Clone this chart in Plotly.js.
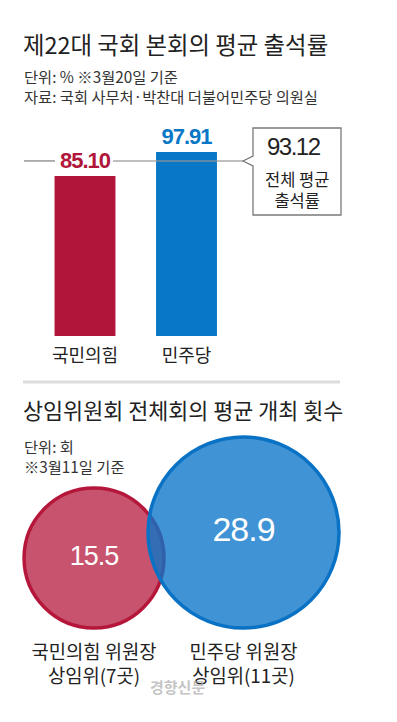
<!DOCTYPE html>
<html>
<head>
<meta charset="utf-8">
<script src="https://cdn.plot.ly/plotly-3.0.1.min.js"></script>
<style>
  html, body { margin: 0; padding: 0; background: #ffffff; }
  #chart { width: 397px; height: 722px; }
  #chart .bartext { letter-spacing: -1px; }
  #chart .textpoint text { letter-spacing: -1px; }
  #chart .annotation[data-index="0"] text { letter-spacing: -1.5px; }
</style>
</head>
<body>
<div id="chart"></div>
<script>
// ---------------- DATA ----------------
var TITLE_1 = '제22대 국회 본회의 평균 출석률';
var NOTES_1 = ['단위: % ※3월20일 기준', '자료: 국회 사무처·박찬대 더불어민주당 의원실'];
var BAR_PARTIES = ['국민의힘', '민주당'];
var BAR_VALUES = [85.10, 97.91];
var AVG_VALUE = 93.12;
var AVG_LABEL = ['전체 평균', '출석률'];

var TITLE_2 = '상임위원회 전체회의 평균 개최 횟수';
var NOTES_2 = ['단위: 회', '※3월11일 기준'];
var BUBBLE_LABELS = ['국민의힘 위원장<br>상임위(7곳)', '민주당 위원장<br>상임위(11곳)'];
var BUBBLE_VALUES = [15.5, 28.9];
var WATERMARK = '경향신문';

// ---------------- STYLE ----------------
var W = 397, H = 722;
var KR = '"Noto Sans CJK KR", "Noto Sans", sans-serif';
var NUM = '"Liberation Sans", Arial, sans-serif';
var RED = '#b1163a', BLUE = '#0877c6';
var TXT = '#222222';

function px(x) { return x / W; }
function py(y) { return 1 - y / H; }

// bar geometry (pixels)
var BAR_BASE = 336, BAR_TOP = 110, BAR_SCALE = 1.88;
var CAT0_X = 85, CAT_STEP = 101.5;

// bubble geometry
var BUB_BASE = 628, BUB_MAX_R = 95.5;
var BUB0_X = 94, BUB_STEP = 149.5;
var maxVal = Math.max.apply(null, BUBBLE_VALUES);
var sizeref = (maxVal / 2) / (BUB_MAX_R * BUB_MAX_R);
function bubR(v) { return Math.sqrt((v / 2) / sizeref); }
var bubbleY = BUBBLE_VALUES.map(function (v) { return BUB_BASE - bubR(v); });

var barTrace = {
  type: 'bar',
  x: BAR_PARTIES,
  y: BAR_VALUES,
  xaxis: 'x', yaxis: 'y',
  width: 0.6,
  marker: { color: [RED, BLUE], line: { width: 0 } },
  texttemplate: '%{y:.2f}',
  textposition: 'outside',
  cliponaxis: false,
  textfont: { family: NUM, size: 22, color: [RED, BLUE], weight: 'bold' },
  hoverinfo: 'skip'
};

var bubbleTrace = {
  type: 'scatter',
  mode: 'markers+text',
  x: BUBBLE_LABELS,
  y: bubbleY,
  xaxis: 'x2', yaxis: 'y2',
  text: BUBBLE_VALUES.map(function (v) { return v.toFixed(1); }),
  textposition: 'middle center',
  textfont: { family: NUM, size: [27, 34], color: '#ffffff' },
  cliponaxis: false,
  marker: {
    size: BUBBLE_VALUES,
    sizemode: 'area',
    sizeref: sizeref,
    color: ['rgba(181,23,59,0.74)', 'rgba(10,117,200,0.78)'],
    line: { color: ['#b5173b', '#0a72c4'], width: 3.5 },
    opacity: 1
  },
  hoverinfo: 'skip'
};

var shapes = [
  // average line (two segments around the red label)
  { type: 'line', xref: 'paper', yref: 'y', x0: px(24), x1: px(55), y0: AVG_VALUE, y1: AVG_VALUE,
    line: { color: 'rgba(140,140,140,0.9)', width: 1.5 }, layer: 'above' },
  { type: 'line', xref: 'paper', yref: 'y', x0: px(113), x1: px(243), y0: AVG_VALUE, y1: AVG_VALUE,
    line: { color: 'rgba(150,150,150,0.8)', width: 1.5 }, layer: 'above' },
  // callout box
  { type: 'path', xref: 'paper', yref: 'paper',
    path: 'M ' + px(253) + ',' + py(128) + ' L ' + px(341) + ',' + py(128) + ' L ' + px(341) + ',' + py(215) +
          ' L ' + px(253) + ',' + py(215) + ' L ' + px(253) + ',' + py(166) + ' L ' + px(243) + ',' + py(161) +
          ' L ' + px(253) + ',' + py(156) + ' Z',
    line: { color: '#7a7a7a', width: 1.3 }, fillcolor: '#ffffff', layer: 'above' },
  // separator
  { type: 'line', xref: 'paper', yref: 'paper', x0: px(23), x1: px(340), y0: py(382), y1: py(382),
    line: { color: '#dcdcdc', width: 3 } }
];

function ann(text, x, y, size, opts) {
  var a = { text: text, xref: 'paper', yref: 'paper', x: px(x), y: py(y),
            xanchor: 'left', yanchor: 'middle', showarrow: false, align: 'left',
            font: { family: KR, size: size, color: TXT } };
  for (var k in (opts || {})) a[k] = opts[k];
  return a;
}

var annotations = [
  ann(AVG_VALUE.toFixed(2), 297, 147, 24, { xanchor: 'center', font: { family: NUM, size: 24, color: TXT } }),
  ann(AVG_LABEL.join('<br>'), 297, 189.5, 16.5, { xanchor: 'center', align: 'center' }),
  ann(TITLE_1, 21, 44, 23.4),
  ann(NOTES_1.join('<br>'), 22, 85.5, 15.3, { font: { family: KR, size: 15.3, color: '#333' } }),
  ann(TITLE_2, 21, 409, 21.8),
  ann(NOTES_2.join('<br>'), 22, 455.5, 15.3, { font: { family: KR, size: 15.3, color: '#333' } }),
  ann(WATERMARK, 177, 686, 15, { xanchor: 'center', font: { family: KR, size: 15, color: 'rgba(170,170,170,0.7)', weight: 'bold' } })
];

var layout = {
  width: W, height: H,
  margin: { l: 0, r: 0, t: 0, b: 0, pad: 0 },
  paper_bgcolor: '#ffffff',
  plot_bgcolor: 'rgba(0,0,0,0)',
  showlegend: false,
  xaxis: {
    type: 'category', domain: [0, 1], anchor: 'y',
    range: [-CAT0_X / CAT_STEP, (W - CAT0_X) / CAT_STEP],
    showgrid: false, zeroline: false, showline: false, ticks: '',
    tickfont: { family: KR, size: 18, color: TXT },
    ticklabelstandoff: 7,
    fixedrange: true
  },
  yaxis: {
    domain: [py(BAR_BASE), py(BAR_TOP)], anchor: 'x',
    range: [0, (BAR_BASE - BAR_TOP) / BAR_SCALE],
    visible: false, fixedrange: true
  },
  xaxis2: {
    type: 'category', domain: [0, 1], anchor: 'free', position: py(630),
    range: [-BUB0_X / BUB_STEP, (W - BUB0_X) / BUB_STEP],
    showgrid: false, zeroline: false, showline: false, ticks: '',
    tickfont: { family: KR, size: 18.8, color: TXT },
    ticklabelstandoff: 9,
    fixedrange: true
  },
  yaxis2: {
    domain: [0, 1], anchor: 'x2',
    range: [H, 0],
    visible: false, fixedrange: true
  },
  shapes: shapes,
  annotations: annotations
};

Plotly.newPlot('chart', [barTrace, bubbleTrace], layout, { staticPlot: true, displayModeBar: false });
</script>
</body>
</html>
